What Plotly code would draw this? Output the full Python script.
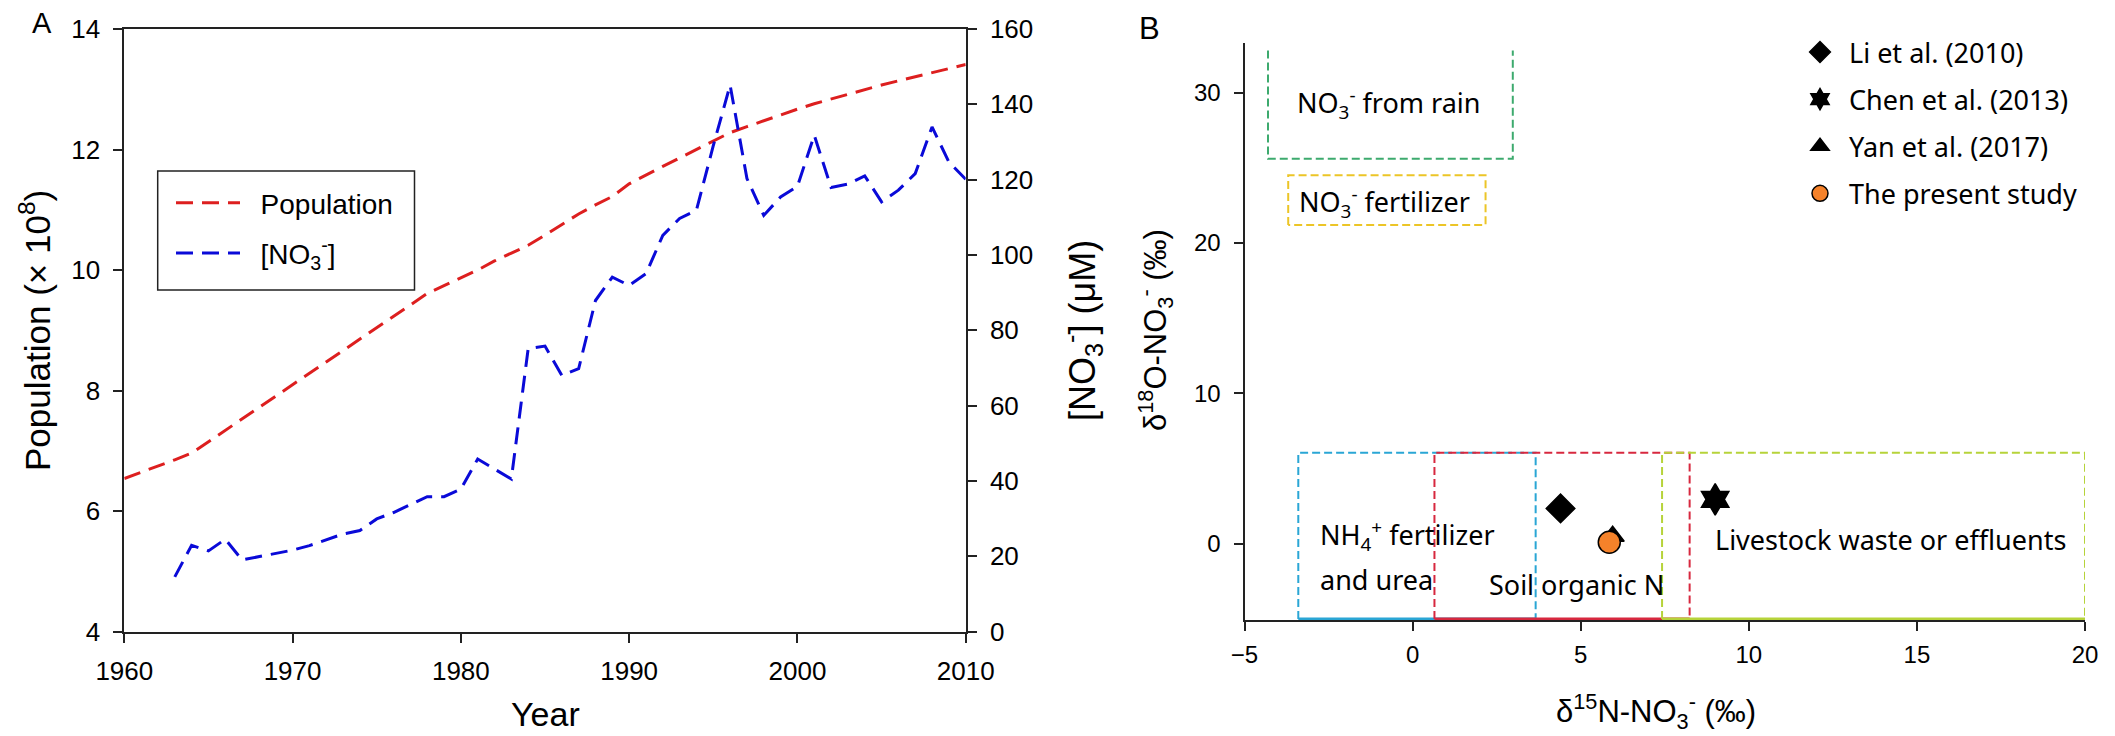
import plotly.graph_objects as go

W, H = 2115, 736

# ---------------- Panel A data ----------------
years = list(range(1960, 2011))
population = [6.54, 6.64, 6.75, 6.85, 6.96, 7.15, 7.34, 7.53, 7.72, 7.91,
              8.10, 8.29, 8.48, 8.67, 8.86, 9.04, 9.23, 9.42, 9.61, 9.74,
              9.87, 10.00, 10.15, 10.28, 10.41, 10.58, 10.75, 10.93, 11.08, 11.22,
              11.43, 11.58, 11.72, 11.86, 12.00, 12.15, 12.28, 12.38, 12.48, 12.58,
              12.67, 12.76, 12.84, 12.92, 13.00, 13.07, 13.14, 13.21, 13.28, 13.34,
              13.41]
no3_years = list(range(1963, 2011))
no3 = [14.5, 22.9, 21.4, 24.5, 19.0, 19.9, 20.7, 21.6, 22.8, 24.3,
       25.9, 26.8, 29.9, 31.6, 33.7, 35.8, 35.8, 37.8, 45.8, 43.2,
       40.5, 75.1, 75.8, 68.0, 69.8, 87.9, 94.1, 91.9, 95.0, 105.2,
       109.7, 111.9, 129.0, 145.1, 120.3, 110.5, 115.4, 118.2, 131.8, 117.9,
       118.8, 121.0, 114.1, 117.2, 121.6, 134.0, 124.7, 120.1]

# ---------------- Panel B data ----------------
refs = ["Li et al. (2010)", "Chen et al. (2013)", "Yan et al. (2017)", "The present study"]
d15n = [4.4, 9.0, 5.95, 5.85]
d18o = [2.35, 2.95, 0.5, 0.1]

box_labels = ["NO<sub>3</sub><sup>-</sup> from rain",
              "NO<sub>3</sub><sup>-</sup> fertilizer",
              "NH<sub>4</sub><sup>+</sup> fertilizer",
              "Soil organic N",
              "Livestock waste or effluents"]
box_x0 = [-4.3, -3.7, -3.4, 0.65, 7.42]
box_x1 = [2.98, 2.17, 3.66, 8.24, 20.0]
box_y0 = [25.6, 21.2, -5.0, -5.0, -5.0]
box_y1 = [32.8, 24.5, 6.05, 6.05, 6.05]

# styling
RED = "#dd1f1f"
BLUE = "#0a0ad8"
box_colors = ["#3daa6e", "#ecc527", "#2aa6d5", "#d7283f", "#b6d33a"]
AX = "#222222"
ARIAL = "Liberation Sans, Arial, sans-serif"
SANS = "Noto Sans, Open Sans, sans-serif"
NB = "\u00a0\u00a0"

fig = go.Figure()

# Panel A lines
fig.add_trace(go.Scatter(x=years, y=population, mode="lines", name=NB + "Population",
                         line=dict(color=RED, width=3, dash="17px,9px"),
                         xaxis="x", yaxis="y", legend="legend", legendgroup="a1"))
fig.add_trace(go.Scatter(x=no3_years, y=no3, mode="lines",
                         name=NB + "[NO<sub>3</sub><sup>-</sup>]",
                         line=dict(color=BLUE, width=3, dash="17px,9px"),
                         xaxis="x", yaxis="y2", legend="legend", legendgroup="a2"))

# Panel B source boxes
for i in range(len(box_x0)):
    x0, x1, y0, y1 = box_x0[i], box_x1[i], box_y0[i], box_y1[i]
    c = box_colors[i]
    if i == 0:
        bx, by = [x0, x0, x1, x1], [y1, y0, y0, y1]
    elif i == 1:
        bx, by = [x0, x0, x1, x1, x0], [y0, y1, y1, y0, y0]
    else:
        bx, by = [x0, x0, x1, x1], [y0, y1, y1, y0]
    fig.add_trace(go.Scatter(x=bx, y=by, mode="lines", showlegend=False, hoverinfo="skip",
                             line=dict(color=c, width=2, dash="8px,4px"),
                             xaxis="x2", yaxis="y3"))
    if i >= 2:
        fig.add_trace(go.Scatter(x=[x0, x1], y=[y0, y0], mode="lines", showlegend=False,
                                 hoverinfo="skip", line=dict(color=c, width=3),
                                 xaxis="x2", yaxis="y3"))

# Panel B points
symbols = ["diamond", "hexagram", "triangle-up", "circle"]
fills = ["black", "black", "black", "#f5822a"]
sizes = [22, 24, 20, 22]
for i in range(len(refs)):
    fig.add_trace(go.Scatter(x=[d15n[i]], y=[d18o[i]], mode="markers", name=refs[i],
                             marker=dict(symbol=symbols[i], color=fills[i], size=sizes[i],
                                         line=dict(color="black", width=1.5)),
                             xaxis="x2", yaxis="y3", legend="legend2",
                             legendgroup="b%d" % i, cliponaxis=False))

def px_x(p):
    return p / W

def px_y(p):
    return 1 - p / H

tick_common = dict(ticks="outside", ticklen=9, tickwidth=1.5, tickcolor=AX,
                   showline=True, linewidth=2, linecolor=AX, showgrid=False,
                   zeroline=False, automargin=False)

fig.update_layout(
    width=W, height=H, margin=dict(l=0, r=0, t=0, b=0),
    paper_bgcolor="white", plot_bgcolor="white",
    xaxis=dict(domain=[px_x(124.3), px_x(965.7)], range=[1960, 2010],
               tickvals=[1960, 1970, 1980, 1990, 2000, 2010], anchor="y", mirror=True,
               tickfont=dict(family=ARIAL, size=26, color="black"), ticklabelstandoff=6,
               **tick_common),
    yaxis=dict(domain=[px_y(631.5), px_y(29)], range=[4, 14], tickvals=[4, 6, 8, 10, 12, 14],
               anchor="x", tickfont=dict(family=ARIAL, size=26, color="black"),
               ticklabelstandoff=8, **tick_common),
    yaxis2=dict(domain=[px_y(631.5), px_y(29)], range=[0, 160],
                tickvals=[0, 20, 40, 60, 80, 100, 120, 140, 160], overlaying="y", side="right",
                anchor="x", tickfont=dict(family=ARIAL, size=26, color="black"),
                ticklabelstandoff=8, **tick_common),
    xaxis2=dict(domain=[px_x(1244.5), px_x(2085)], range=[-5, 20],
                tickvals=[-5, 0, 5, 10, 15, 20], anchor="y3", layer="below traces",
                tickfont=dict(family=ARIAL, size=24, color="black"), ticklabelstandoff=3,
                **tick_common),
    yaxis3=dict(domain=[px_y(620), px_y(43)], range=[-5.07, 33.3], tickvals=[0, 10, 20, 30],
                anchor="x2", tickfont=dict(family=ARIAL, size=24, color="black"),
                ticklabelstandoff=8, **tick_common),
    legend=dict(x=px_x(171), y=px_y(178), xanchor="left", yanchor="top",
                bgcolor="rgba(0,0,0,0)", borderwidth=0, itemwidth=64,
                traceorder="grouped", tracegroupgap=11,
                font=dict(family=ARIAL, size=28, color="black")),
    legend2=dict(x=px_x(1791), y=px_y(28), xanchor="left", yanchor="top",
                 bgcolor="rgba(0,0,0,0)", borderwidth=0, itemwidth=48,
                 traceorder="grouped", tracegroupgap=9,
                 font=dict(family=SANS, size=27, color="black")),
    shapes=[dict(type="rect", xref="paper", yref="paper",
                 x0=px_x(157.7), x1=px_x(414.5), y0=px_y(290), y1=px_y(171),
                 line=dict(color=AX, width=1.5), fillcolor="rgba(0,0,0,0)")],
)

def pann(text, x, y, size, angle=0, family=ARIAL, yanchor="middle"):
    return dict(text=text, x=px_x(x), y=px_y(y), xref="paper", yref="paper",
                xanchor="center", yanchor=yanchor, textangle=angle, showarrow=False,
                font=dict(family=family, size=size, color="black"))

ann = [
    pann("A", 42, 23, 29),
    pann("B", 1149, 28, 31),
    pann("Year", 545, 735, 34, yanchor="bottom"),
    pann("Population (× 10<sup>8</sup>)", 35, 331, 35, -90),
    pann("[NO<sub>3</sub><sup>-</sup>] (μM)", 1082, 331, 36, -90),
    pann("δ<sup>15</sup>N-NO<sub>3</sub><sup>-</sup> (‰)", 1656, 711, 31),
    pann("δ<sup>18</sup>O-NO<sub>3</sub><sup>-</sup> (‰)", 1155, 330, 31, -90),
]
# box labels
label_pos = [(-3.5, 29.3), (-3.45, 22.7), (-2.8, 0.55), (2.22, -2.68), (8.94, 0.31)]
for t, (lx, ly) in zip(box_labels, label_pos):
    ann.append(dict(text=t, x=lx, y=ly, xref="x2", yref="y3", xanchor="left",
                    yanchor="middle", showarrow=False,
                    font=dict(family=SANS, size=27, color="black")))
ann.append(dict(text="and urea", x=-2.8, y=-2.35, xref="x2", yref="y3", xanchor="left",
                yanchor="middle", showarrow=False,
                font=dict(family=SANS, size=27, color="black")))
fig.update_layout(annotations=ann)

fig.write_html("out.html")
